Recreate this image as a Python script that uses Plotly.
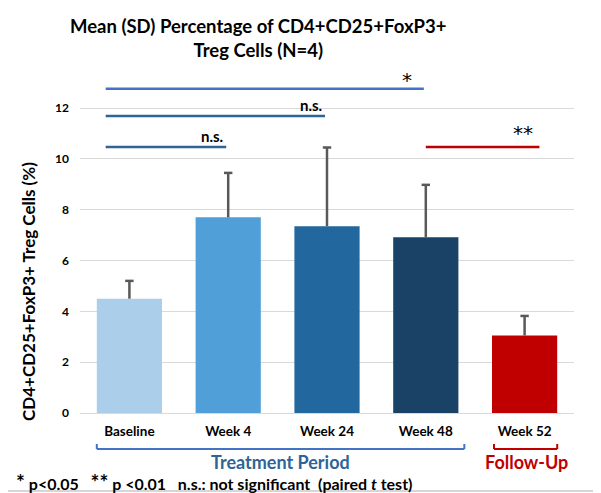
import plotly.graph_objects as go

# data
categories = ["Baseline", "Week 4", "Week 24", "Week 48", "Week 52"]
means = [4.5, 7.7, 7.35, 6.92, 3.05]
sds = [0.7, 1.75, 3.1, 2.06, 0.77]
bar_colors = ["#abcfeb", "#519fd8", "#22679e", "#1a4266", "#c00000"]
y_ticks = [0, 2, 4, 6, 8, 10, 12]

# significance brackets: (from index, to index, height, label, colour)
comparisons = [
    (0, 3, 12.76, "*", "#4472c4"),
    (0, 2, 11.69, "n.s.", "#2e6496"),
    (0, 1, 10.47, "n.s.", "#2e6496"),
    (3, 4, 10.47, "**", "#c00000"),
]

# the page puts the figure 8px in from the top-left corner
OFF = 8
W, H = 601 - OFF, 493 - OFF
L, R, T, B = 72, 27, 62, 80
pw, ph = W - L - R, H - T - B


def px_x(p):
    # window pixel -> paper x
    return (p - OFF - L) / pw


def px_y(p):
    # window pixel -> paper y
    return (H - B - (p - OFF)) / ph


FONT = "Lato"
ERR = "#595959"
xs = list(range(len(categories)))
tops = [m + s for m, s in zip(means, sds)]

fig = go.Figure()
fig.add_trace(
    go.Bar(
        x=xs,
        y=means,
        marker=dict(color=bar_colors, line=dict(width=0)),
        width=0.66,
        error_y=dict(
            type="data",
            symmetric=False,
            array=sds,
            arrayminus=[0] * len(sds),
            color=ERR,
            thickness=2.5,
            width=0,
        ),
    )
)
# caps only at the top of each error bar
fig.add_trace(
    go.Scatter(
        x=xs,
        y=tops,
        mode="markers",
        marker=dict(symbol="line-ew", size=6, line=dict(color=ERR, width=2.5)),
        hoverinfo="skip",
    )
)

shapes = []
annotations = []
for i0, i1, h, label, col in comparisons:
    x0 = i0 - 0.24 if i0 == 0 else i0
    x1 = i1 + 0.15 if i1 == 4 else i1 - 0.02
    shapes.append(dict(type="line", xref="x", yref="y", x0=x0, x1=x1, y0=h, y1=h,
                       line=dict(color=col, width=2.5)))
    if label == "n.s.":
        annotations.append(dict(xref="x", yref="y", x=x1 - 0.14, y=h + 0.45, text="<b>n.s.</b>",
                                showarrow=False, xanchor="center", yanchor="middle",
                                font=dict(family=FONT, size=15, color="black")))
    else:
        annotations.append(dict(xref="x", yref="y", x=x1 - 0.17, y=h + (0.35 if label == "*" else 0.55),
                                text=label, showarrow=False, xanchor="center", yanchor="middle",
                                font=dict(family="DejaVu Sans", size=20, color="black")))


# period brackets under the axis
def bracket(x0, x1, color):
    yb, yt = px_y(449), px_y(444)
    return [
        dict(type="line", xref="x", yref="paper", x0=x0, x1=x1, y0=yb, y1=yb, line=dict(color=color, width=2)),
        dict(type="line", xref="x", yref="paper", x0=x0, x1=x0, y0=yb, y1=yt, line=dict(color=color, width=2)),
        dict(type="line", xref="x", yref="paper", x0=x1, x1=x1, y0=yb, y1=yt, line=dict(color=color, width=2)),
    ]


shapes += bracket(-0.33, 3.39, "#4472c4")
shapes += bracket(3.69, 4.33, "#c00000")
shapes.append(dict(type="line", xref="paper", yref="paper", x0=px_x(0), x1=px_x(601), y0=px_y(491),
                   y1=px_y(491), line=dict(color="#c8c8c8", width=1.5)))

annotations += [
    dict(xref="paper", yref="paper", x=px_x(258), y=px_y(38), showarrow=False,
         xanchor="center", yanchor="middle",
         text="<b>Mean (SD) Percentage of CD4+CD25+FoxP3+<br>Treg Cells (N=4)</b>",
         font=dict(family=FONT, size=18.5, color="black"), align="center"),
    dict(xref="paper", yref="paper", x=px_x(28), y=px_y(292), showarrow=False, textangle=-90,
         xanchor="center", yanchor="middle",
         text="<b>CD4+CD25+FoxP3+ Treg Cells (%)</b>",
         font=dict(family=FONT, size=17, color="black")),
    dict(xref="paper", yref="paper", x=px_x(280), y=px_y(462), showarrow=False,
         xanchor="center", yanchor="middle",
         text="<b>Treatment Period</b>", font=dict(family=FONT, size=18, color="#2e6496")),
    dict(xref="paper", yref="paper", x=px_x(526), y=px_y(462), showarrow=False,
         xanchor="center", yanchor="middle",
         text="<b>Follow-Up</b>", font=dict(family=FONT, size=18, color="#c00000")),
    dict(xref="paper", yref="paper", x=px_x(14), y=px_y(482), showarrow=False,
         xanchor="left", yanchor="middle",
         text="<b><span style='font-size:21px'>*</span> p&lt;0.05   <span style='font-size:21px'>**</span>"
              " p &lt;0.01   n.s.: not significant  (paired <i>t</i> test)</b>",
         font=dict(family=FONT, size=16, color="black")),
]

fig.update_layout(
    width=W,
    height=H,
    margin=dict(l=L, r=R, t=T, b=B),
    plot_bgcolor="white",
    paper_bgcolor="white",
    showlegend=False,
    shapes=shapes,
    annotations=annotations,
    font=dict(family=FONT, color="black"),
)
fig.update_xaxes(
    range=[-0.5, 4.5],
    tickvals=xs,
    ticktext=["<b>%s</b>" % c for c in categories],
    tickfont=dict(family=FONT, size=13.5, color="black"),
    showgrid=False,
    showline=False,
    zeroline=False,
    ticklabelstandoff=8,
)
fig.update_yaxes(
    range=[0, 13.5],
    tickvals=y_ticks,
    ticktext=["<b>%d</b>" % v for v in y_ticks],
    tickfont=dict(family=FONT, size=12, color="black"),
    showgrid=True,
    gridcolor="#d9d9d9",
    gridwidth=1,
    zeroline=True,
    zerolinecolor="#d9d9d9",
    zerolinewidth=1,
    showline=False,
    ticklabelstandoff=10,
)

fig.write_html("out.html")
